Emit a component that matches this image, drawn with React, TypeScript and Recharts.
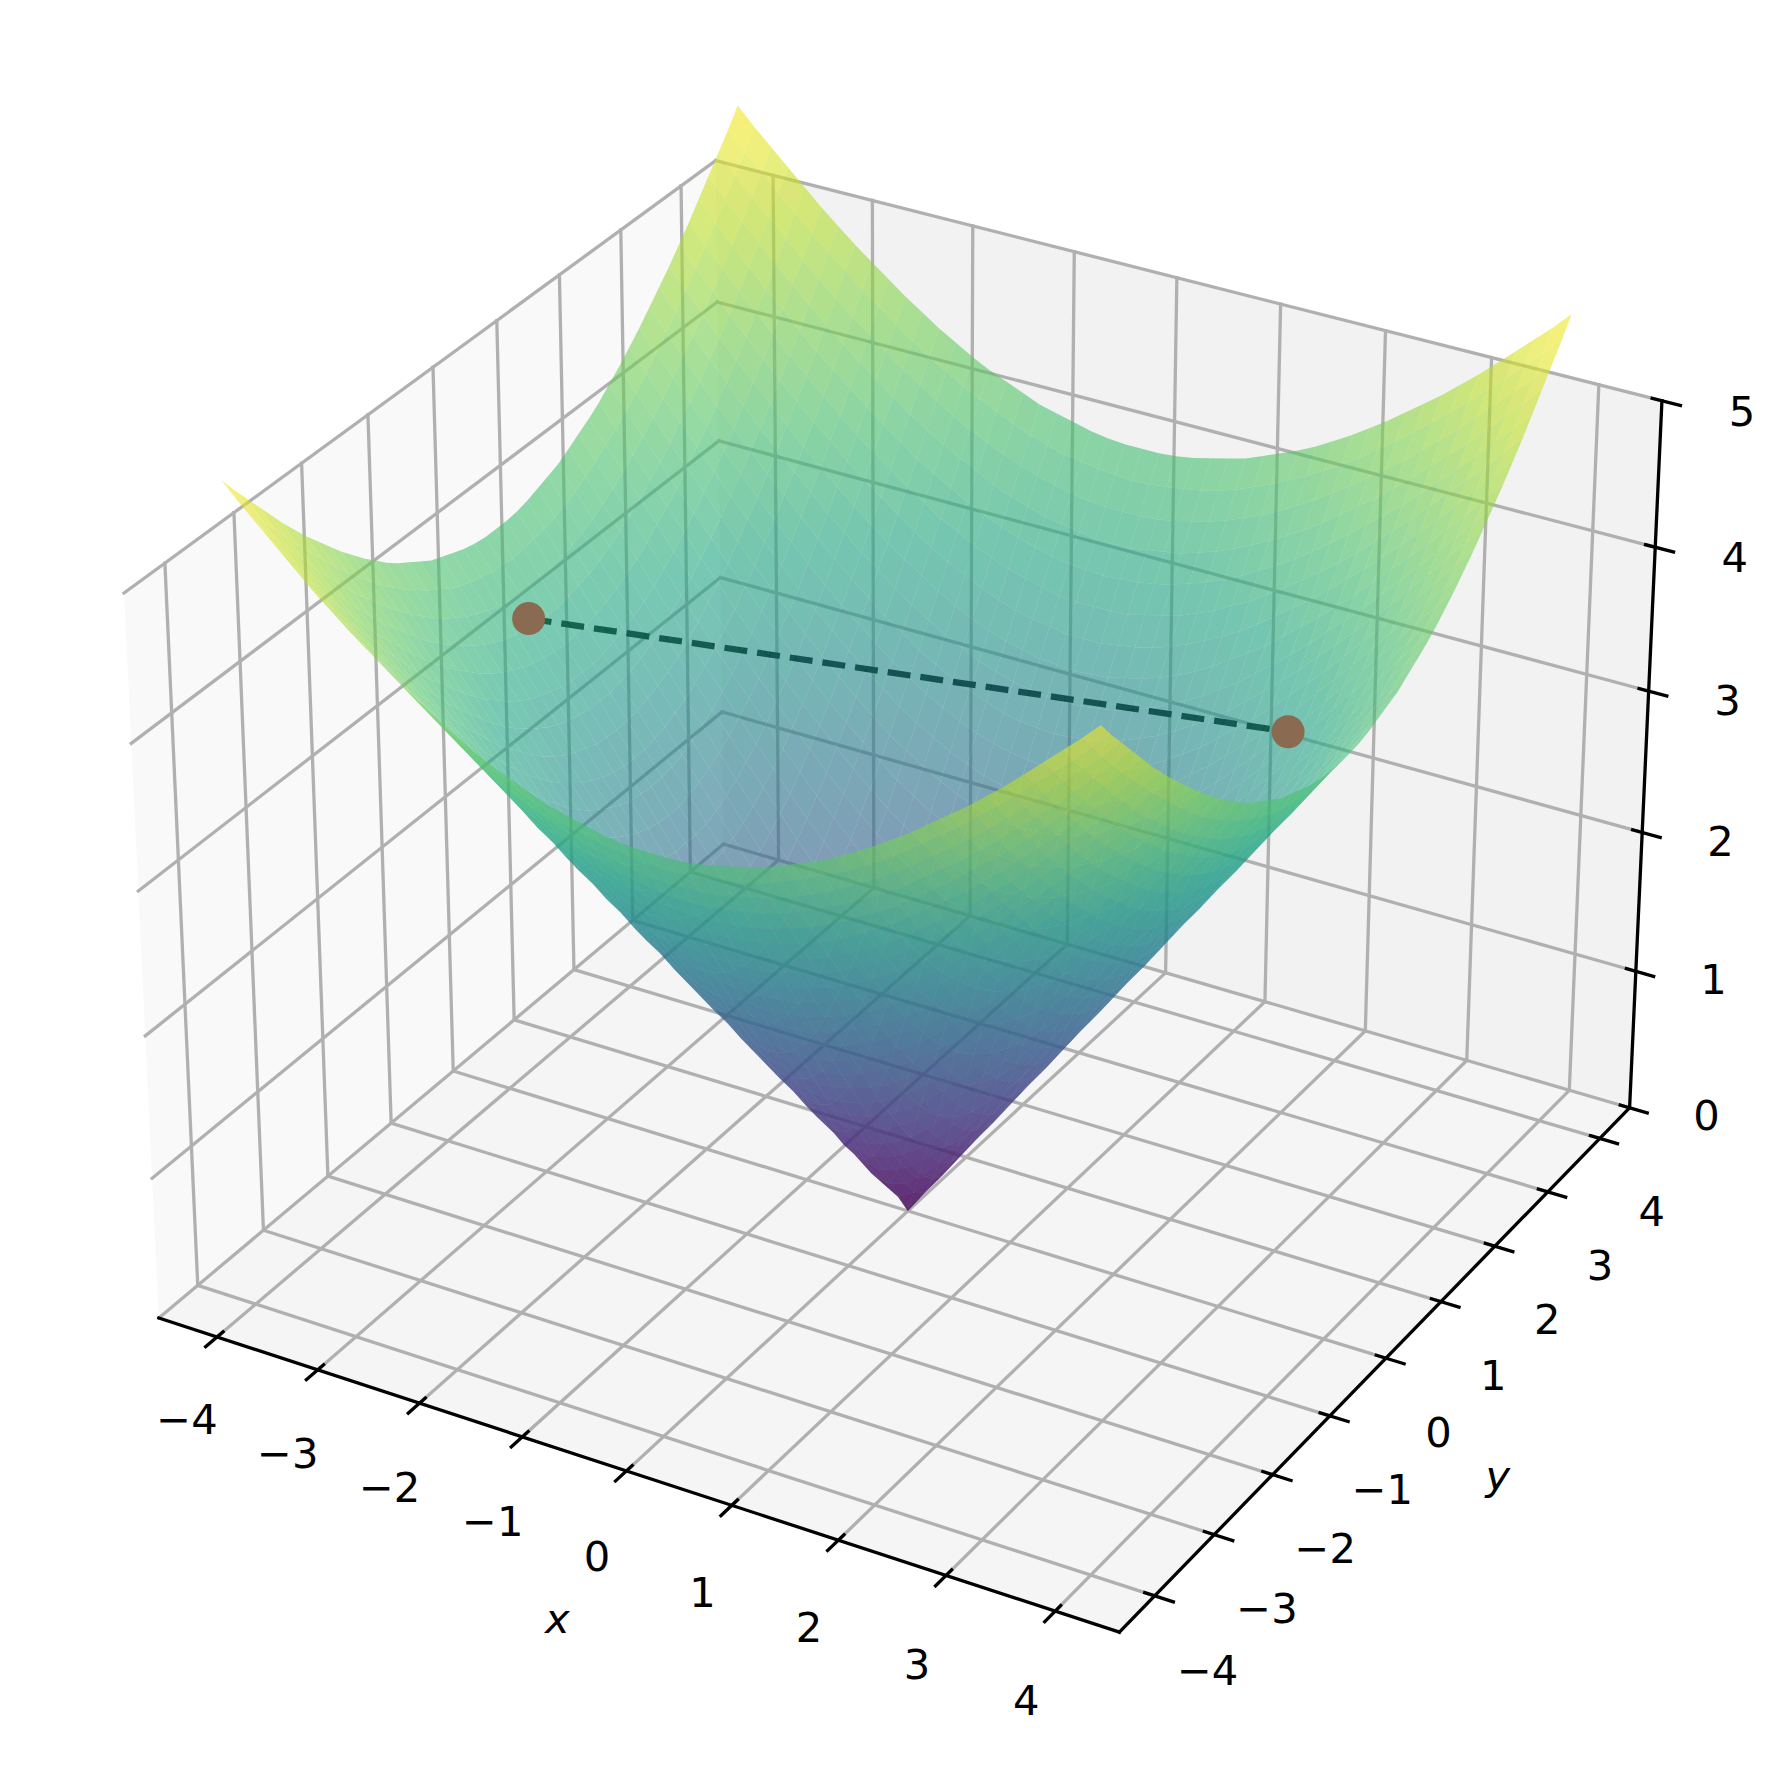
import { Scatter, ScatterChart, XAxis, YAxis } from "recharts"

// view limits of the 3d box
const X_LIM = [-4.583, 4.583]
const Y_LIM = [-4.583, 4.583]
const Z_LIM = [0, 5]

const X_TICKS = [-4, -3, -2, -1, 0, 1, 2, 3, 4]
const Y_TICKS = [-4, -3, -2, -1, 0, 1, 2, 3, 4]
const Z_TICKS = [0, 1, 2, 3, 4, 5]

// surface samples: distance from the centre line, and heights for |x| at each |y|
const GRID_POS = [0, 0.1667, 0.3333, 0.5, 0.6667, 0.8333, 1, 1.1667, 1.3333, 1.5, 1.6667, 1.8333, 2, 2.1667, 2.3333, 2.5, 2.6667, 2.8333, 3, 3.1667, 3.3333, 3.5, 3.6667, 3.8333, 4]
const Z_ROWS = [
  [0, 0.17, 0.33, 0.5, 0.67, 0.83, 1, 1.17, 1.33, 1.5, 1.67, 1.83, 2, 2.17, 2.33, 2.5, 2.67, 2.83, 3, 3.17, 3.33, 3.5, 3.67, 3.83, 4],
  [0.17, 0.24, 0.37, 0.53, 0.69, 0.85, 1.01, 1.18, 1.34, 1.51, 1.68, 1.84, 2.01, 2.17, 2.34, 2.51, 2.67, 2.84, 3, 3.17, 3.34, 3.5, 3.67, 3.84, 4],
  [0.33, 0.37, 0.47, 0.6, 0.75, 0.9, 1.05, 1.21, 1.37, 1.54, 1.7, 1.86, 2.03, 2.19, 2.36, 2.52, 2.69, 2.85, 3.02, 3.18, 3.35, 3.52, 3.68, 3.85, 4.01],
  [0.5, 0.53, 0.6, 0.71, 0.83, 0.97, 1.12, 1.27, 1.42, 1.58, 1.74, 1.9, 2.06, 2.22, 2.39, 2.55, 2.71, 2.88, 3.04, 3.21, 3.37, 3.54, 3.7, 3.87, 4.03],
  [0.67, 0.69, 0.75, 0.83, 0.94, 1.07, 1.2, 1.34, 1.49, 1.64, 1.8, 1.95, 2.11, 2.27, 2.43, 2.59, 2.75, 2.91, 3.07, 3.24, 3.4, 3.56, 3.73, 3.89, 4.06],
  [0.83, 0.85, 0.9, 0.97, 1.07, 1.18, 1.3, 1.43, 1.57, 1.72, 1.86, 2.01, 2.17, 2.32, 2.48, 2.64, 2.79, 2.95, 3.11, 3.27, 3.44, 3.6, 3.76, 3.92, 4.09],
  [1, 1.01, 1.05, 1.12, 1.2, 1.3, 1.41, 1.54, 1.67, 1.8, 1.94, 2.09, 2.24, 2.39, 2.54, 2.69, 2.85, 3, 3.16, 3.32, 3.48, 3.64, 3.8, 3.96, 4.12],
  [1.17, 1.18, 1.21, 1.27, 1.34, 1.43, 1.54, 1.65, 1.77, 1.9, 2.03, 2.17, 2.32, 2.46, 2.61, 2.76, 2.91, 3.06, 3.22, 3.37, 3.53, 3.69, 3.85, 4.01, 4.17],
  [1.33, 1.34, 1.37, 1.42, 1.49, 1.57, 1.67, 1.77, 1.89, 2.01, 2.13, 2.27, 2.4, 2.54, 2.69, 2.83, 2.98, 3.13, 3.28, 3.44, 3.59, 3.75, 3.9, 4.06, 4.22],
  [1.5, 1.51, 1.54, 1.58, 1.64, 1.72, 1.8, 1.9, 2.01, 2.12, 2.24, 2.37, 2.5, 2.64, 2.77, 2.92, 3.06, 3.21, 3.35, 3.5, 3.66, 3.81, 3.96, 4.12, 4.27],
  [1.67, 1.68, 1.7, 1.74, 1.8, 1.86, 1.94, 2.03, 2.13, 2.24, 2.36, 2.48, 2.6, 2.73, 2.87, 3, 3.14, 3.29, 3.43, 3.58, 3.73, 3.88, 4.03, 4.18, 4.33],
  [1.83, 1.84, 1.86, 1.9, 1.95, 2.01, 2.09, 2.17, 2.27, 2.37, 2.48, 2.59, 2.71, 2.84, 2.97, 3.1, 3.24, 3.37, 3.52, 3.66, 3.8, 3.95, 4.1, 4.25, 4.4],
  [2, 2.01, 2.03, 2.06, 2.11, 2.17, 2.24, 2.32, 2.4, 2.5, 2.6, 2.71, 2.83, 2.95, 3.07, 3.2, 3.33, 3.47, 3.61, 3.75, 3.89, 4.03, 4.18, 4.32, 4.47],
  [2.17, 2.17, 2.19, 2.22, 2.27, 2.32, 2.39, 2.46, 2.54, 2.64, 2.73, 2.84, 2.95, 3.06, 3.18, 3.31, 3.44, 3.57, 3.7, 3.84, 3.98, 4.12, 4.26, 4.4, 4.55],
  [2.33, 2.34, 2.36, 2.39, 2.43, 2.48, 2.54, 2.61, 2.69, 2.77, 2.87, 2.97, 3.07, 3.18, 3.3, 3.42, 3.54, 3.67, 3.8, 3.93, 4.07, 4.21, 4.35, 4.49, 4.63],
  [2.5, 2.51, 2.52, 2.55, 2.59, 2.64, 2.69, 2.76, 2.83, 2.92, 3, 3.1, 3.2, 3.31, 3.42, 3.54, 3.66, 3.78, 3.91, 4.03, 4.17, 4.3, 4.44, 4.58, 4.72],
  [2.67, 2.67, 2.69, 2.71, 2.75, 2.79, 2.85, 2.91, 2.98, 3.06, 3.14, 3.24, 3.33, 3.44, 3.54, 3.66, 3.77, 3.89, 4.01, 4.14, 4.27, 4.4, 4.53, 4.67, 4.81],
  [2.83, 2.84, 2.85, 2.88, 2.91, 2.95, 3, 3.06, 3.13, 3.21, 3.29, 3.37, 3.47, 3.57, 3.67, 3.78, 3.89, 4.01, 4.13, 4.25, 4.37, 4.5, 4.63, 4.77, 4.9],
  [3, 3, 3.02, 3.04, 3.07, 3.11, 3.16, 3.22, 3.28, 3.35, 3.43, 3.52, 3.61, 3.7, 3.8, 3.91, 4.01, 4.13, 4.24, 4.36, 4.48, 4.61, 4.74, 4.87, 5],
  [3.17, 3.17, 3.18, 3.21, 3.24, 3.27, 3.32, 3.37, 3.44, 3.5, 3.58, 3.66, 3.75, 3.84, 3.93, 4.03, 4.14, 4.25, 4.36, 4.48, 4.6, 4.72, 4.84, 4.97, 5.1],
  [3.33, 3.34, 3.35, 3.37, 3.4, 3.44, 3.48, 3.53, 3.59, 3.66, 3.73, 3.8, 3.89, 3.98, 4.07, 4.17, 4.27, 4.37, 4.48, 4.6, 4.71, 4.83, 4.96, 5.08, 5.21],
  [3.5, 3.5, 3.52, 3.54, 3.56, 3.6, 3.64, 3.69, 3.75, 3.81, 3.88, 3.95, 4.03, 4.12, 4.21, 4.3, 4.4, 4.5, 4.61, 4.72, 4.83, 4.95, 5.07, 5.19, 5.32],
  [3.67, 3.67, 3.68, 3.7, 3.73, 3.76, 3.8, 3.85, 3.9, 3.96, 4.03, 4.1, 4.18, 4.26, 4.35, 4.44, 4.53, 4.63, 4.74, 4.84, 4.96, 5.07, 5.19, 5.3, 5.43],
  [3.83, 3.84, 3.85, 3.87, 3.89, 3.92, 3.96, 4.01, 4.06, 4.12, 4.18, 4.25, 4.32, 4.4, 4.49, 4.58, 4.67, 4.77, 4.87, 4.97, 5.08, 5.19, 5.3, 5.42, 5.54],
  [4, 4, 4.01, 4.03, 4.06, 4.09, 4.12, 4.17, 4.22, 4.27, 4.33, 4.4, 4.47, 4.55, 4.63, 4.72, 4.81, 4.9, 5, 5.1, 5.21, 5.32, 5.43, 5.54, 5.66],
]

// the dashed chord and its two end points
const CHORD_X = [-3.5, 2.5]
const CHORD_Y = [-0.3, 2]
const CHORD_Z = [3.58, 3.2]

const VIRIDIS = ["#440154", "#482475", "#414487", "#355f8d", "#2a788e", "#21918c", "#22a884", "#44bf70", "#7ad151", "#bddf26", "#fde725"]
const Z_MAX = 5.66

const WIDTH = 1784
const HEIGHT = 1770
const PX_PER_UNIT_X = 9243 // plane units to pixels, only used for label offsets
const PX_PER_UNIT_Y = 9254
const PLANE_X = [-0.09822, 0.0948]
const PLANE_Y = [-0.09823, 0.09304]
const FONT = "'DejaVu Sans', sans-serif"

// matplotlib style perspective camera, elev 30 azim -60
const BOX = [1.19048, 1.19048, 0.89286]
const U = [0.86603, 0.5, 0]
const V = [-0.25, 0.43301, 0.86603]
const W = [0.43301, -0.75, 0.5]
const DIST = 10

const toCentered = (x: number, y: number, z: number) => [
  ((x - X_LIM[0]) / (X_LIM[1] - X_LIM[0]) - 0.5) * BOX[0],
  ((y - Y_LIM[0]) / (Y_LIM[1] - Y_LIM[0]) - 0.5) * BOX[1],
  ((z - Z_LIM[0]) / (Z_LIM[1] - Z_LIM[0]) - 0.5) * BOX[2],
]
const dot = (a: number[], b: number[]) => a[0] * b[0] + a[1] * b[1] + a[2] * b[2]

function project(x: number, y: number, z: number) {
  const c = toCentered(x, y, z)
  const d = DIST - dot(W, c)
  return { x: dot(U, c) / d, y: dot(V, c) / d }
}
const depth = (x: number, y: number, z: number) => dot(W, toCentered(x, y, z))

function viridis(t: number) {
  const s = Math.min(0.9999, Math.max(0, t)) * (VIRIDIS.length - 1)
  const i = Math.floor(s)
  const f = s - i
  const hex = (c: string, k: number) => parseInt(c.slice(1 + k * 2, 3 + k * 2), 16)
  const ch = [0, 1, 2].map((k) => Math.round(hex(VIRIDIS[i], k) * (1 - f) + hex(VIRIDIS[i + 1], k) * f))
  return `rgb(${ch[0]},${ch[1]},${ch[2]})`
}

const [x0, x1] = X_LIM
const [y0, y1] = Y_LIM
const [z0, z1] = Z_LIM

// the sampled rows cover one side, the surface is the same on the other
const GRID_XY = [...GRID_POS.slice(1).reverse().map((v) => -v), ...GRID_POS]
const fullRow = (row: number[]) => [...row.slice(1).reverse(), ...row]
const SURFACE_Z = [...Z_ROWS.slice(1).reverse(), ...Z_ROWS].map(fullRow)

// panes
const panes = [
  { fill: "#f9f9f9", pts: [project(x0, y0, z0), project(x0, y1, z0), project(x0, y1, z1), project(x0, y0, z1)] },
  { fill: "#f2f2f2", pts: [project(x0, y1, z0), project(x1, y1, z0), project(x1, y1, z1), project(x0, y1, z1)] },
  { fill: "#f5f5f5", pts: [project(x0, y0, z0), project(x1, y0, z0), project(x1, y1, z0), project(x0, y1, z0)] },
]

// grid lines, two points per segment
const gridPoints = [
  ...X_TICKS.flatMap((t) => [project(t, y0, z0), project(t, y1, z0), project(t, y1, z0), project(t, y1, z1)]),
  ...Y_TICKS.flatMap((t) => [project(x0, t, z0), project(x1, t, z0), project(x0, t, z0), project(x0, t, z1)]),
  ...Z_TICKS.flatMap((t) => [project(x0, y0, t), project(x0, y1, t), project(x0, y1, t), project(x1, y1, t)]),
]

// axis lines and tick marks
const TICK_IN = 0.09
const TICK_OUT = 0.17
const axisPoints = [
  project(x0, y0, z0), project(x1, y0, z0),
  project(x1, y0, z0), project(x1, y1, z0),
  project(x1, y1, z0), project(x1, y1, z1),
  ...X_TICKS.flatMap((t) => [project(t, y0 + TICK_IN, z0), project(t, y0 - TICK_OUT, z0)]),
  ...Y_TICKS.flatMap((t) => [project(x1 - TICK_IN, t, z0), project(x1 + TICK_OUT, t, z0)]),
  ...Z_TICKS.flatMap((t) => [project(x1 - TICK_IN, y1, t), project(x1 + TICK_OUT, y1, t)]),
]

// surface cells, painted back to front
const cells: { d: number; t: number; i: number; j: number }[] = []
for (let j = 0; j < GRID_XY.length - 1; j++) {
  for (let i = 0; i < GRID_XY.length - 1; i++) {
    const zs = [SURFACE_Z[j][i], SURFACE_Z[j][i + 1], SURFACE_Z[j + 1][i + 1], SURFACE_Z[j + 1][i]]
    const mean = (zs[0] + zs[1] + zs[2] + zs[3]) / 4
    const d = depth((GRID_XY[i] + GRID_XY[i + 1]) / 2, (GRID_XY[j] + GRID_XY[j + 1]) / 2, mean)
    cells.push({ d, t: mean / Z_MAX, i, j })
  }
}
cells.sort((a, b) => a.d - b.d)
const cellColors = cells.map((c) => viridis(c.t))
const surfacePoints = cells.flatMap(({ i, j }) => [
  project(GRID_XY[i], GRID_XY[j], SURFACE_Z[j][i]),
  project(GRID_XY[i + 1], GRID_XY[j], SURFACE_Z[j][i + 1]),
  project(GRID_XY[i + 1], GRID_XY[j + 1], SURFACE_Z[j + 1][i + 1]),
  project(GRID_XY[i], GRID_XY[j + 1], SURFACE_Z[j + 1][i]),
])

const chordPoints = CHORD_X.map((x, k) => project(x, CHORD_Y[k], CHORD_Z[k]))

// labels sit at a fixed screen offset from the point on the axis
const lerp = (a: number, b: number, t: number) => a + (b - a) * t
function labelAt(p: { x: number; y: number }, dx: number, dy: number, label: string, italic = false) {
  return { x: p.x + dx / PX_PER_UNIT_X, y: p.y - dy / PX_PER_UNIT_Y, label, italic }
}
const fmt = (t: number) => (t < 0 ? `\u2212${-t}` : `${t}`)
const labels = [
  ...X_TICKS.map((t, k) => {
    const f = k / (X_TICKS.length - 1)
    return labelAt(project(t, y0, z0), lerp(-30, -29, f), lerp(82, 89, f), fmt(t))
  }),
  ...Y_TICKS.map((t, k) => {
    const f = k / (Y_TICKS.length - 1)
    return labelAt(project(x1, t, z0), lerp(53, 52, f), lerp(74, 73, f), fmt(t))
  }),
  ...Z_TICKS.map((t, k) => {
    const f = k / (Z_TICKS.length - 1)
    return labelAt(project(x1, y1, t), lerp(77, 80, f), lerp(7, 10, f), fmt(t))
  }),
  labelAt(project(0, y0, z0), -69, 147, "x", true),
  labelAt(project(x1, 0, z0), 112, 117, "y", true),
]

const NoMark = () => null

const toPath = (pts: any[]) => "M" + pts.map((p) => `${p.x},${p.y}`).join("L") + "Z"

function segments(color: string, width: number) {
  return (props: any) => {
    const out = []
    for (let k = 0; k + 1 < props.points.length; k += 2) {
      const a = props.points[k]
      const b = props.points[k + 1]
      out.push(<line key={k} x1={a.x} y1={a.y} x2={b.x} y2={b.y} stroke={color} strokeWidth={width} strokeLinecap="square" />)
    }
    return <g>{out}</g>
  }
}

function surfaceCells(props: any) {
  const out = []
  for (let k = 0; k * 4 < props.points.length; k++) {
    out.push(<path key={k} d={toPath(props.points.slice(k * 4, k * 4 + 4))} fill={cellColors[k]} fillOpacity={0.6} stroke="none" />)
  }
  return <g>{out}</g>
}

function TickLabel(props: any) {
  const { cx, cy, payload } = props
  return (
    <text x={cx} y={cy} dy="0.36em" textAnchor="middle" fontFamily={FONT} fontSize={41.67} fontStyle={payload.italic ? "italic" : "normal"} fill="#000">
      {payload.label}
    </text>
  )
}

function ChordDot(props: any) {
  return <circle cx={props.cx} cy={props.cy} r={16.5} fill="#8a6a50" />
}

export default function App() {
  return (
    <div style={{ position: "absolute", left: 0, top: 0, width: WIDTH, height: HEIGHT, background: "#fff" }}>
      <ScatterChart width={WIDTH} height={HEIGHT} margin={{ top: 0, right: 0, bottom: 0, left: 0 }}>
        <XAxis type="number" dataKey="x" domain={PLANE_X} allowDataOverflow hide />
        <YAxis type="number" dataKey="y" domain={PLANE_Y} allowDataOverflow hide />
        {panes.map((p, k) => (
          <Scatter key={k} data={p.pts} shape={NoMark} line={{ fill: p.fill, stroke: p.fill, strokeWidth: 1 }} isAnimationActive={false} />
        ))}
        <Scatter data={gridPoints} shape={NoMark} line={segments("#b0b0b0", 3.3)} isAnimationActive={false} />
        <Scatter data={axisPoints} shape={NoMark} line={segments("#000", 3.3)} isAnimationActive={false} />
        <Scatter data={chordPoints} shape={NoMark} line={{ stroke: "#000", strokeWidth: 6.25, strokeDasharray: "23 10" }} isAnimationActive={false} />
        <Scatter data={surfacePoints} shape={NoMark} line={surfaceCells} isAnimationActive={false} />
        <Scatter data={chordPoints} shape={ChordDot} isAnimationActive={false} />
        <Scatter data={labels} shape={TickLabel} isAnimationActive={false} />
      </ScatterChart>
    </div>
  )
}
